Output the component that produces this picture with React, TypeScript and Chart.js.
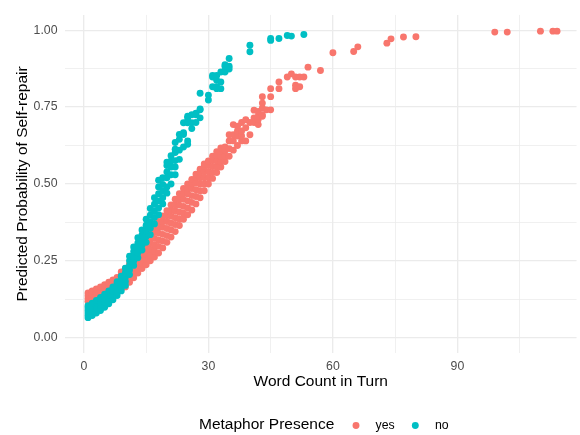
import React, { useEffect, useRef } from 'react';
import { Chart, registerables } from 'chart.js';

Chart.register(...registerables);

const FONT = "'Liberation Sans', Arial, Helvetica, sans-serif";

// ---------- data ----------
const seriesLabels = ['yes', 'no'];
const seriesColors = ['#F8766D', '#00BFC4'];
const legendTitle = 'Metaphor Presence';
const xTitle = 'Word Count in Turn';
const yTitle = 'Predicted Probability of Self-repair';

const xTickLabels = [0, 30, 60, 90];
const xGridValues = [0, 15, 30, 45, 60, 75, 90, 105];
const yTickLabels = [0, 0.25, 0.5, 0.75, 1];
const yGridValues = [0, 0.125, 0.25, 0.375, 0.5, 0.625, 0.75, 0.875, 1];

// "yes" series: word counts and the predicted probabilities observed at each count
const yesCounts = [
  1, 2, 3, 4, 5, 6, 7, 8, 9, 10, 11, 12, 13, 14, 15, 16, 17, 18, 19, 20,
  21, 22, 23, 24, 25, 26, 27, 28, 29, 30, 31, 32, 33, 34, 35, 36, 37, 38, 39, 40,
  41, 42, 43, 44, 45, 47, 49, 50, 51, 52, 53, 54, 57, 60, 65, 66, 73, 74, 77, 80,
  99, 102, 110, 113, 114,
];
const yesProbs = [
  [0.118, 0.127, 0.136, 0.145],
  [0.122, 0.132, 0.142, 0.152],
  [0.127, 0.137, 0.148, 0.158],
  [0.132, 0.143, 0.154, 0.165],
  [0.137, 0.149, 0.161, 0.172],
  [0.142, 0.155, 0.168, 0.18],
  [0.147, 0.161, 0.175, 0.188],
  [0.152, 0.167, 0.182, 0.196],
  [0.158, 0.174, 0.19, 0.205, 0.214],
  [0.165, 0.18, 0.195, 0.21, 0.225],
  [0.18, 0.195, 0.21, 0.226, 0.24],
  [0.195, 0.21, 0.225, 0.24, 0.255, 0.265],
  [0.21, 0.225, 0.241, 0.257, 0.272, 0.283],
  [0.225, 0.24, 0.257, 0.273, 0.29, 0.3],
  [0.237, 0.254, 0.272, 0.29, 0.307, 0.32],
  [0.25, 0.268, 0.287, 0.306, 0.325, 0.34],
  [0.262, 0.282, 0.302, 0.323, 0.343, 0.36],
  [0.275, 0.297, 0.318, 0.34, 0.36, 0.378],
  [0.292, 0.314, 0.336, 0.359, 0.379, 0.396],
  [0.31, 0.332, 0.355, 0.378, 0.397, 0.413],
  [0.327, 0.35, 0.372, 0.395, 0.415, 0.432],
  [0.345, 0.368, 0.39, 0.412, 0.432, 0.45],
  [0.365, 0.386, 0.408, 0.431, 0.451, 0.468],
  [0.385, 0.405, 0.427, 0.45, 0.47, 0.485],
  [0.4, 0.422, 0.445, 0.468, 0.487, 0.5],
  [0.415, 0.44, 0.462, 0.485, 0.503, 0.515],
  [0.435, 0.459, 0.481, 0.503, 0.521, 0.532],
  [0.455, 0.478, 0.5, 0.52, 0.538, 0.548],
  [0.478, 0.499, 0.52, 0.54, 0.557, 0.565],
  [0.5, 0.52, 0.54, 0.56, 0.575],
  [0.518, 0.537, 0.557, 0.576, 0.59],
  [0.537, 0.555, 0.575, 0.593, 0.605],
  [0.555, 0.572, 0.59, 0.607, 0.617],
  [0.573, 0.59, 0.608, 0.62],
  [0.59, 0.615, 0.64, 0.66],
  [0.61, 0.64, 0.66, 0.693],
  [0.625, 0.656, 0.672, 0.688],
  [0.64, 0.656, 0.672, 0.7],
  [0.64, 0.683, 0.709],
  [0.66, 0.7],
  [0.7, 0.715, 0.74],
  [0.693, 0.71, 0.72, 0.736],
  [0.72, 0.725, 0.747, 0.763, 0.784],
  [0.741],
  [0.741, 0.784, 0.81],
  [0.81, 0.832],
  [0.848],
  [0.858],
  [0.81, 0.821, 0.848],
  [0.816, 0.848],
  [0.848],
  [0.88],
  [0.869],
  [0.927],
  [0.931],
  [0.946],
  [0.958],
  [0.972],
  [0.978],
  [0.979],
  [0.994],
  [0.994],
  [0.997],
  [0.997],
  [0.997],
];

// "no" series
const noCounts = [
  1, 2, 3, 4, 5, 6, 7, 8, 9, 10, 11, 12, 13, 14, 15, 16, 17, 18, 19, 20,
  21, 22, 23, 24, 25, 26, 27, 28, 30, 31, 32, 33, 34, 35, 40, 45, 47, 49, 50, 53,
];
const noProbs = [
  [0.065, 0.073, 0.081, 0.089, 0.097, 0.104],
  [0.072, 0.08, 0.088, 0.096, 0.104, 0.112],
  [0.08, 0.088, 0.096, 0.104, 0.113, 0.121],
  [0.088, 0.096, 0.105, 0.114, 0.123, 0.131],
  [0.099, 0.107, 0.116, 0.125, 0.134, 0.141],
  [0.11, 0.119, 0.128, 0.137, 0.146, 0.152],
  [0.123, 0.132, 0.141, 0.15, 0.159, 0.165],
  [0.137, 0.146, 0.155, 0.165, 0.175, 0.182],
  [0.152, 0.163, 0.175, 0.187, 0.2],
  [0.17, 0.183, 0.197, 0.211, 0.226],
  [0.205, 0.22, 0.235, 0.25, 0.265],
  [0.235, 0.25, 0.265, 0.28, 0.295],
  [0.26, 0.276, 0.292, 0.308, 0.325],
  [0.285, 0.301, 0.318, 0.334, 0.35],
  [0.31, 0.329, 0.347, 0.366, 0.385],
  [0.335, 0.356, 0.377, 0.398, 0.42],
  [0.37, 0.391, 0.412, 0.434, 0.455],
  [0.4, 0.422, 0.445, 0.468, 0.49, 0.512],
  [0.435, 0.455, 0.476, 0.498, 0.52],
  [0.47, 0.49, 0.52, 0.539, 0.56, 0.571],
  [0.5, 0.53, 0.555, 0.575, 0.592],
  [0.53, 0.555, 0.576, 0.602, 0.613, 0.635],
  [0.58, 0.61, 0.645, 0.661],
  [0.62, 0.661, 0.667, 0.699],
  [0.629, 0.64, 0.699, 0.704, 0.715, 0.72],
  [0.68, 0.699, 0.725],
  [0.7, 0.725, 0.73],
  [0.715, 0.741, 0.744, 0.795],
  [0.773, 0.789],
  [0.816, 0.848, 0.853],
  [0.81, 0.816, 0.837, 0.853],
  [0.81, 0.832, 0.864],
  [0.864, 0.869, 0.883, 0.888],
  [0.874, 0.883, 0.908],
  [0.93, 0.951],
  [0.967, 0.973],
  [0.973],
  [0.983],
  [0.981],
  [0.986],
];

function toPoints(counts: number[], probs: number[][]) {
  const pts: { x: number; y: number }[] = [];
  counts.forEach((c, i) => {
    probs[i].forEach((p) => pts.push({ x: c, y: p }));
  });
  return pts;
}

const legendPlugin = {
  id: 'ggLegend',
  afterDraw(chart: any) {
    const ctx = chart.ctx as CanvasRenderingContext2D;
    ctx.save();
    ctx.textBaseline = 'middle';
    ctx.textAlign = 'left';
    ctx.fillStyle = '#000000';
    ctx.font = `15.5px ${FONT}`;
    ctx.fillText(legendTitle, 199, 425);
    const keyX = [356, 415.3];
    const labelX = [375.5, 435];
    ctx.font = `12.3px ${FONT}`;
    seriesLabels.forEach((lab, i) => {
      ctx.beginPath();
      ctx.fillStyle = seriesColors[i];
      ctx.arc(keyX[i], 425.5, 3.45, 0, Math.PI * 2);
      ctx.fill();
      ctx.fillStyle = '#000000';
      ctx.fillText(lab, labelX[i], 425.5);
    });
    ctx.restore();
  },
};

export default function App() {
  const ref = useRef<HTMLCanvasElement>(null);

  useEffect(() => {
    document.body.style.margin = '0';
    const canvas = ref.current;
    if (!canvas) return;

    const isMajorX = (v: number) => xTickLabels.includes(v);
    const isMajorY = (v: number) => yTickLabels.includes(v);

    const chart = new Chart(canvas, {
      type: 'scatter',
      data: {
        datasets: [
          {
            label: seriesLabels[0],
            data: toPoints(yesCounts, yesProbs),
            backgroundColor: seriesColors[0],
            borderWidth: 0,
            pointRadius: 3.45,
            pointHoverRadius: 3.45,
            order: 1,
          },
          {
            label: seriesLabels[1],
            data: toPoints(noCounts, noProbs),
            backgroundColor: seriesColors[1],
            borderWidth: 0,
            pointRadius: 3.45,
            pointHoverRadius: 3.45,
            order: 0,
          },
        ],
      },
      options: {
        animation: false,
        responsive: false,
        maintainAspectRatio: false,
        layout: { padding: { top: 9, right: 0, bottom: 0, left: 0 } },
        plugins: {
          legend: { display: false },
          tooltip: { enabled: false },
        },
        scales: {
          x: {
            type: 'linear',
            min: -4.55,
            max: 118.7,
            afterBuildTicks: (s: any) => {
              s.ticks = xGridValues.map((v) => ({ value: v }));
            },
            afterFit: (s: any) => {
              s.height = 82;
            },
            grid: {
              color: '#EBEBEB',
              lineWidth: (c: any) => (c.tick && isMajorX(c.tick.value) ? 1.35 : 0.75),
              drawTicks: false,
            },
            border: { display: false },
            ticks: {
              autoSkip: false,
              maxRotation: 0,
              padding: 6,
              color: '#4D4D4D',
              font: { family: FONT, size: 12.3 },
              callback: (v: any) => (isMajorX(Number(v)) ? String(v) : ''),
            },
            title: {
              display: true,
              text: xTitle,
              color: '#000000',
              font: { family: FONT, size: 15.5 },
              padding: { top: 0, bottom: 44 },
            },
          },
          y: {
            type: 'linear',
            min: -0.05,
            max: 1.05,
            afterBuildTicks: (s: any) => {
              s.ticks = yGridValues.map((v) => ({ value: v }));
            },
            afterFit: (s: any) => {
              s.width = 65;
            },
            grid: {
              color: '#EBEBEB',
              lineWidth: (c: any) => (c.tick && isMajorY(c.tick.value) ? 1.35 : 0.75),
              drawTicks: false,
            },
            border: { display: false },
            ticks: {
              autoSkip: false,
              padding: 7.5,
              color: '#4D4D4D',
              font: { family: FONT, size: 12.3 },
              callback: (v: any) => (isMajorY(Number(v)) ? Number(v).toFixed(2) : ''),
            },
            title: {
              display: true,
              text: yTitle,
              color: '#000000',
              font: { family: FONT, size: 15.5 },
              padding: { top: 13, bottom: 0 },
            },
          },
        },
      },
      plugins: [legendPlugin],
    } as any);

    return () => chart.destroy();
  }, []);

  return (
    <div style={{ position: 'absolute', left: 0, top: 0, width: 580, height: 435, background: '#fff' }}>
      <canvas ref={ref} width={580} height={435} style={{ display: 'block', width: 580, height: 435 }} />
    </div>
  );
}
